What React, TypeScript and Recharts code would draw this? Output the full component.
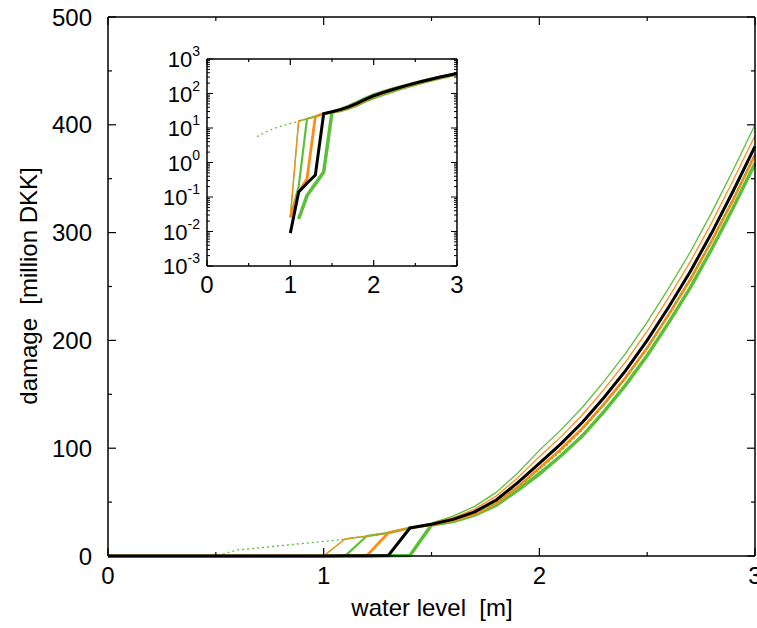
import { LineChart, Line, XAxis, YAxis } from 'recharts';

const FONT = '"Liberation Sans", Arial, Helvetica, sans-serif';
const GREEN = '#5cbf3a';
const ORANGE = '#ff8c1a';

// water level [m]
const levels = [0, 0.1, 0.2, 0.3, 0.4, 0.5, 0.6, 0.7, 0.8, 0.9, 1.0, 1.1, 1.2, 1.3, 1.4, 1.5, 1.6, 1.7, 1.8, 1.9, 2.0, 2.1, 2.2, 2.3, 2.4, 2.5, 2.6, 2.7, 2.8, 2.9, 3.0];

// damage [million DKK], one array per curve
const thinGreen = [0, 0, 0, 0, 0, 0, 0, 0, 0, 0, 0.026, 16, 18.5, 21.5, 26, 30.5, 37, 46, 59, 77, 98, 117, 138, 162, 188, 217, 248.5, 282, 319, 358.5, 400];
const thinOrange = [0, 0, 0, 0, 0, 0, 0, 0, 0, 0, 0.026, 16, 18.5, 21.5, 26, 30, 35.5, 43.5, 55.5, 72.5, 92, 110.5, 131, 154.5, 180, 208.5, 240, 273, 309.5, 349, 390];
const midGreen = [0, 0, 0, 0, 0, 0, 0, 0, 0, 0, 0.026, 0.2, 18.5, 21.5, 26, 29, 32.5, 38.5, 47.5, 61.5, 77, 93, 112, 134.5, 159, 186.5, 217, 249.5, 285.5, 324, 364.5];
const midOrange = [0, 0, 0, 0, 0, 0, 0, 0, 0, 0, 0.026, 0.14, 0.34, 21.5, 26, 29, 33, 39, 49, 64, 81.5, 99, 118.5, 141, 165.5, 193, 224, 256.5, 292.5, 331, 372];
const blackLine = [0, 0, 0, 0, 0, 0, 0, 0, 0, 0, 0.009, 0.14, 0.25, 0.43, 26, 29.5, 34, 41, 52, 68, 86, 104, 124, 147, 172, 200, 231, 264, 300, 339, 380];
const thickGreen = [0, 0, 0, 0, 0, 0, 0, 0, 0, 0, 0, 0.023, 0.11, 0.24, 0.53, 28.8, 32, 38, 47, 61, 76, 93, 111.5, 134, 158.5, 186, 216.5, 249, 285, 323.5, 364];
const dottedGreen = [0, 0, 0, 0, 0, 0, 5.6, 7.6, 9.6, 11.6, 13.5, 15.5, 18.5, 21.5, 26, 29.5, 33.5, 40, 50, 64, 80, 97, 117, 140, 165, 193, 224, 257, 293, 332, 373];

const xTicks = [0, 0.5, 1, 1.5, 2, 2.5, 3];
const yTicks = [0, 50, 100, 150, 200, 250, 300, 350, 400, 450, 500];
const decades = [-3, -2, -1, 0, 1, 2, 3];
const logTicks = decades.flatMap((e) =>
  e < 3 ? [1, 2, 3, 4, 5, 6, 7, 8, 9].map((m) => m * Math.pow(10, e)) : [Math.pow(10, e)]
);

const series = [
  { key: 'thickGreen', values: thickGreen, color: GREEN, width: 3.5, dash: undefined },
  { key: 'midGreen', values: midGreen, color: GREEN, width: 2.2, dash: undefined },
  { key: 'midOrange', values: midOrange, color: ORANGE, width: 2.8, dash: undefined },
  { key: 'thinGreen', values: thinGreen, color: GREEN, width: 1.3, dash: undefined },
  { key: 'thinOrange', values: thinOrange, color: ORANGE, width: 1.3, dash: undefined },
  { key: 'dottedGreen', values: dottedGreen, color: GREEN, width: 1.3, dash: '2 3' },
  { key: 'black', values: blackLine, color: '#000', width: 3, dash: undefined },
];

const mainData = levels.map((x, i) => {
  const row: Record<string, number> = { x };
  series.forEach((s) => (row[s.key] = s.values[i]));
  return row;
});

// log axis can't show zero
const insetData = levels.map((x, i) => {
  const row: Record<string, number | null> = { x };
  series.forEach((s) => (row[s.key] = s.values[i] > 0 ? s.values[i] : null));
  return row;
});

const isDecade = (v: number) => Math.abs(Math.log10(v) - Math.round(Math.log10(v))) < 1e-9;

function BottomTick({ x, y, payload, len = 8, dy = 28 }: any) {
  const v = payload.value;
  const major = Number.isInteger(v);
  return (
    <g>
      <line x1={x} x2={x} y1={y} y2={y - (major ? len : len / 2)} stroke="#000" strokeWidth={1.2} />
      {major && (
        <text x={x} y={y + dy} textAnchor="middle" fontSize={24} fontFamily={FONT} fill="#000">
          {v}
        </text>
      )}
    </g>
  );
}

function TopTick({ x, y, payload, len = 8 }: any) {
  const major = Number.isInteger(payload.value);
  return <line x1={x} x2={x} y1={y} y2={y + (major ? len : len / 2)} stroke="#000" strokeWidth={1.2} />;
}

function LeftTick({ x, y, payload }: any) {
  const v = payload.value;
  const major = v % 100 === 0;
  return (
    <g>
      <line x1={x} x2={x + (major ? 8 : 4)} y1={y} y2={y} stroke="#000" strokeWidth={1.2} />
      {major && (
        <text x={x - 16} y={y + 8.5} textAnchor="end" fontSize={24} fontFamily={FONT} fill="#000">
          {v}
        </text>
      )}
    </g>
  );
}

function RightTick({ x, y, payload }: any) {
  const major = payload.value % 100 === 0;
  return <line x1={x} x2={x - (major ? 8 : 4)} y1={y} y2={y} stroke="#000" strokeWidth={1.2} />;
}

function LogLeftTick({ x, y, payload }: any) {
  const v = payload.value;
  const major = isDecade(v);
  const e = Math.round(Math.log10(v));
  return (
    <g>
      <line x1={x} x2={x + (major ? 6 : 3)} y1={y} y2={y} stroke="#000" strokeWidth={1} />
      {major && (
        <text x={x - 7} y={y + 8} textAnchor="end" fontSize={22} fontFamily={FONT} fill="#000">
          <tspan>10</tspan>
          <tspan dy={-11} fontSize={14}>{e}</tspan>
        </text>
      )}
    </g>
  );
}

function LogRightTick({ x, y, payload }: any) {
  const major = isDecade(payload.value);
  return <line x1={x} x2={x - (major ? 6 : 3)} y1={y} y2={y} stroke="#000" strokeWidth={1} />;
}

const axisLine = { stroke: '#000', strokeWidth: 1.5 };

export default function App() {
  return (
    <div style={{ position: 'relative', width: 757, height: 628, background: '#fff' }}>
      <style>{'body{margin:0}'}</style>
      <LineChart width={757} height={628} data={mainData} margin={{ top: 16, right: 1, bottom: 0, left: 0 }}>
        <XAxis dataKey="x" type="number" domain={[0, 3]} ticks={xTicks} interval={0} height={72}
          tickSize={0} tickMargin={0} axisLine={axisLine} tickLine={false}
          tick={(p: any) => <BottomTick {...p} />} />
        <XAxis xAxisId="top" dataKey="x" orientation="top" type="number" domain={[0, 3]} allowDataOverflow ticks={xTicks}
          interval={0} height={1} tickSize={0} tickMargin={0} axisLine={axisLine} tickLine={false}
          tick={(p: any) => <TopTick {...p} />} />
        <YAxis type="number" domain={[0, 500]} ticks={yTicks} interval={0} width={108}
          tickSize={0} tickMargin={0} axisLine={axisLine} tickLine={false}
          tick={(p: any) => <LeftTick {...p} />} />
        <YAxis yAxisId="right" orientation="right" type="number" domain={[0, 500]} allowDataOverflow ticks={yTicks}
          interval={0} width={1} tickSize={0} tickMargin={0} axisLine={axisLine} tickLine={false}
          tick={(p: any) => <RightTick {...p} />} />
        {series.map((s) => (
          <Line key={s.key} dataKey={s.key} type="linear" stroke={s.color} strokeWidth={s.width}
            strokeDasharray={s.dash} dot={false} activeDot={false} isAnimationActive={false} />
        ))}
        <Line xAxisId="top" yAxisId="right" dataKey="black" stroke="none" dot={false} activeDot={false}
          isAnimationActive={false} legendType="none" />
      </LineChart>

      <svg width={757} height={628} style={{ position: 'absolute', left: 0, top: 0, pointerEvents: 'none' }}>
        <text x={432} y={616} textAnchor="middle" fontSize={24} fontFamily={FONT} style={{ whiteSpace: 'pre' }}>
          water level  [m]
        </text>
        <text transform="translate(37,286) rotate(-90)" textAnchor="middle" fontSize={24} fontFamily={FONT}
          style={{ whiteSpace: 'pre' }}>
          damage  [million DKK]
        </text>
      </svg>

      <div style={{ position: 'absolute', left: 150, top: 40 }}>
        <LineChart width={320} height={280} data={insetData} margin={{ top: 18, right: 12, bottom: 0, left: 0 }}>
          <XAxis dataKey="x" type="number" domain={[0, 3]} ticks={xTicks} interval={0} height={54}
            tickSize={0} tickMargin={0} axisLine={axisLine} tickLine={false}
            tick={(p: any) => <BottomTick {...p} len={6} dy={27} />} />
          <XAxis xAxisId="top" dataKey="x" orientation="top" type="number" domain={[0, 3]} allowDataOverflow ticks={xTicks}
            interval={0} height={1} tickSize={0} tickMargin={0} axisLine={axisLine} tickLine={false}
            tick={(p: any) => <TopTick {...p} len={6} />} />
          <YAxis type="number" scale="log" domain={[0.001, 1000]} allowDataOverflow ticks={logTicks} interval={0}
            width={57} tickSize={0} tickMargin={0} axisLine={axisLine} tickLine={false}
            tick={(p: any) => <LogLeftTick {...p} />} />
          <YAxis yAxisId="right" orientation="right" type="number" scale="log" domain={[0.001, 1000]} allowDataOverflow
            ticks={logTicks} interval={0} width={1} tickSize={0} tickMargin={0} axisLine={axisLine} tickLine={false}
            tick={(p: any) => <LogRightTick {...p} />} />
          {series.map((s) => (
            <Line key={s.key} dataKey={s.key} type="linear" stroke={s.color} strokeWidth={s.width}
              strokeDasharray={s.dash} dot={false} activeDot={false} connectNulls={false} isAnimationActive={false} />
          ))}
          <Line xAxisId="top" yAxisId="right" dataKey="black" stroke="none" dot={false} activeDot={false}
            isAnimationActive={false} legendType="none" />
        </LineChart>
      </div>
    </div>
  );
}
